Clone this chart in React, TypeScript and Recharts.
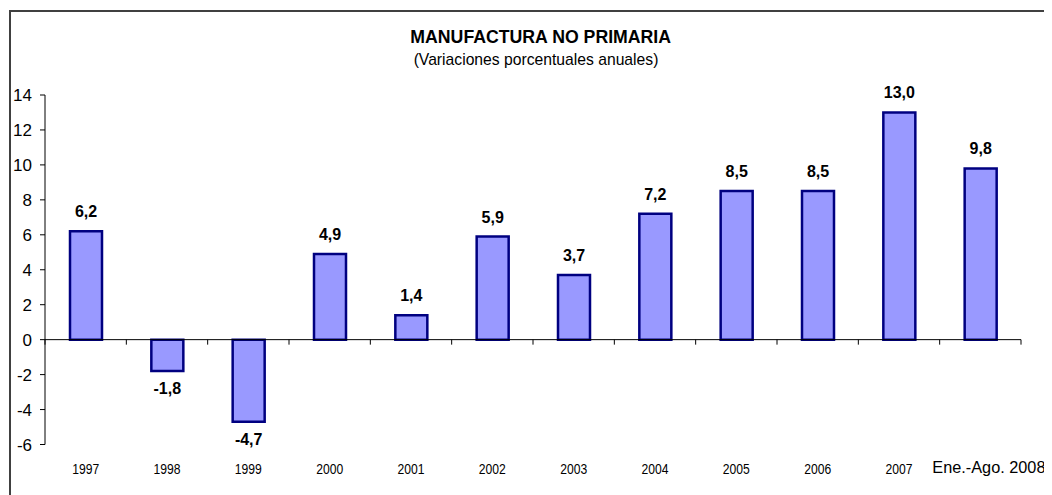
import React from 'react';
import { BarChart, Bar, XAxis, YAxis, ReferenceLine, LabelList } from 'recharts';

const categories = ['1997', '1998', '1999', '2000', '2001', '2002', '2003', '2004', '2005', '2006', '2007', 'Ene.-Ago. 2008'];
const values = [6.2, -1.8, -4.7, 4.9, 1.4, 5.9, 3.7, 7.2, 8.5, 8.5, 13.0, 9.8];
const yTicks = [-6, -4, -2, 0, 2, 4, 6, 8, 10, 12, 14];
const title = 'MANUFACTURA NO PRIMARIA';
const subtitle = '(Variaciones porcentuales anuales)';

const data = categories.map((c, i) => ({ name: c, value: values[i] }));

const FONT = "'Liberation Sans', Arial, Helvetica, sans-serif";

const fmt = (v: number) => v.toFixed(1).replace('.', ',');

const XTick = (props: any) => {
  const { x, y, payload, index } = props;
  const label = String(payload.value);
  if (index === categories.length - 1) {
    return (
      <text x={x - 48} y={y + 28.5} fontFamily={FONT} fontSize={16.3} fill="#000">
        {label}
      </text>
    );
  }
  return (
    <text
      x={x}
      y={y + 29.5}
      textAnchor="middle"
      fontFamily={FONT}
      fontSize={15.5}
      textLength={27}
      lengthAdjust="spacingAndGlyphs"
      fill="#000"
    >
      {label}
    </text>
  );
};

const BarLabel = (props: any) => {
  const vb = props.viewBox || props;
  const x = vb.x ?? props.x;
  const y = vb.y ?? props.y;
  const width = vb.width ?? props.width;
  const height = vb.height ?? props.height;
  const value = Number(props.value);
  const top = Math.min(y, y + height);
  const bottom = Math.max(y, y + height);
  const cx = x + width / 2;
  const ty = value >= 0 ? top - 14 : bottom + 23;
  return (
    <text x={cx} y={ty} textAnchor="middle" fontFamily={FONT} fontWeight="bold" fontSize={16} fill="#000">
      {fmt(value)}
    </text>
  );
};

const ZeroLine = (props: any) => {
  const { x1, y1, x2 } = props;
  const n = categories.length;
  const step = (x2 - x1) / n;
  const ticks = Array.from({ length: n + 1 }, (_, i) => x1 + i * step);
  return (
    <g>
      <line x1={x1} y1={y1} x2={x2} y2={y1} stroke="#000" strokeWidth={1} />
      {ticks.map((t, i) => (
        <line key={i} x1={t} x2={t} y1={y1} y2={y1 + 5} stroke="#000" strokeWidth={1} />
      ))}
    </g>
  );
};

export default function App() {
  return (
    <div style={{ position: 'relative', width: 1044, height: 487, overflow: 'hidden', background: '#fff' }}>
      <BarChart width={1044} height={487} data={data} margin={{ top: 87, right: 31, bottom: 0, left: 0 }}>
        <YAxis
          width={37}
          domain={[-6, 14]}
          ticks={yTicks}
          interval={0}
          tickSize={5}
          tickMargin={8}
          axisLine={{ stroke: '#000' }}
          tickLine={{ stroke: '#000' }}
          tick={{ fontFamily: FONT, fontSize: 17, fill: '#000' }}
        />
        <XAxis
          dataKey="name"
          height={50.5}
          interval={0}
          axisLine={false}
          tickLine={false}
          tickSize={0}
          tickMargin={0}
          tick={<XTick />}
        />
        <ReferenceLine y={0} shape={ZeroLine} ifOverflow="visible" />
        <Bar dataKey="value" fill="#9999FF" stroke="#000080" strokeWidth={2.5} barSize={32} isAnimationActive={false}>
          <LabelList dataKey="value" content={BarLabel} />
        </Bar>
      </BarChart>
      <svg
        width={1044}
        height={487}
        style={{ position: 'absolute', left: 0, top: 0, pointerEvents: 'none' }}
      >
        <rect x={2} y={3} width={2000} height={2000} fill="none" stroke="#404040" strokeWidth={2} />
        <text x={532.7} y={35.3} textAnchor="middle" fontFamily={FONT} fontWeight="bold" fontSize={17.7} fill="#000">
          {title}
        </text>
        <text x={528} y={56.5} textAnchor="middle" fontFamily={FONT} fontSize={15.7} fill="#000">
          {subtitle}
        </text>
      </svg>
    </div>
  );
}
